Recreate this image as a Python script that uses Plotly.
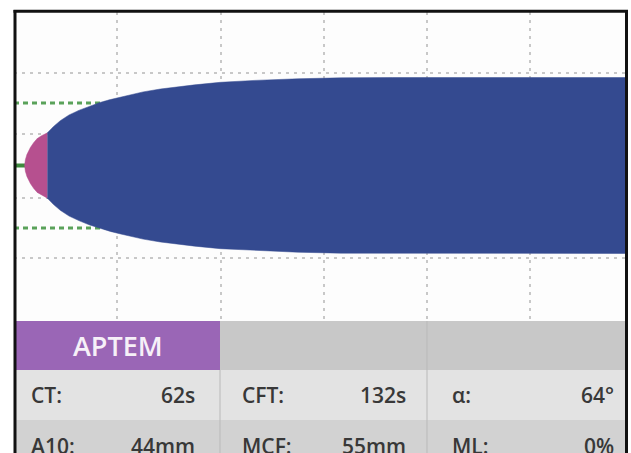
import plotly.graph_objects as go

# ---------------- data ----------------
CT_s = 62          # clotting time (s)
CFT_s = 132        # clot formation time (s)

# time (s) vs half amplitude (mm) of the upper trace edge
time_s = [62, 66, 75, 95, 115, 135, 160, 194, 230, 269, 320, 380, 440, 500,
          560, 620, 662, 750, 850, 950, 1050, 1200, 1400, 1650, 1900, 2200,
          2600, 3000, 3560]
half_amp_mm = [0.0, 1.8, 3.4, 5.6, 7.2, 8.4, 9.3, 10.2, 12.2, 14.0, 15.8, 17.3,
               18.6, 19.7, 20.6, 21.4, 22.0, 23.0, 23.9, 24.6, 25.2, 26.0,
               26.6, 27.1, 27.4, 27.5, 27.5, 27.5, 27.5]

x_grid_s = [600, 1200, 1800, 2400, 3000]
y_grid_mm = [-29, -10, 10, 29]
ref_line_mm = [19.5, -19.5]

assay_name = "APTEM"
row1_labels = ["CT:", "CFT:", "α:"]
row1_values = ["62s", "132s", "64°"]
row2_labels = ["A10:", "MCF:", "ML:"]
row2_values = ["44mm", "55mm", "0%"]

# ---------------- figure ----------------
W, H = 631, 453
X_END = 3556

def px(x):
    return x / W

def py(y):
    return 1 - y / H

fig = go.Figure()

# green dotted reference lines (under the trace)
for v in ref_line_mm:
    fig.add_trace(go.Scatter(x=[0, X_END], y=[v, v], mode="lines",
                             line=dict(color="#5aa25a", width=3, dash="5px,4px"),
                             hoverinfo="skip", showlegend=False))

# green baseline before CT
fig.add_trace(go.Scatter(x=[0, CT_s + 4], y=[0, 0], mode="lines",
                         line=dict(color="#3e8a3e", width=4),
                         hoverinfo="skip", showlegend=False))

t_split = CT_s + CFT_s
pink_t = [t for t in time_s if t <= t_split]
pink_a = [a for t, a in zip(time_s, half_amp_mm) if t <= t_split]
blue_t = [t for t in time_s if t >= t_split]
blue_a = [a for t, a in zip(time_s, half_amp_mm) if t >= t_split]

fig.add_trace(go.Scatter(x=pink_t + pink_t[::-1],
                         y=pink_a + [-a for a in pink_a[::-1]],
                         fill="toself", fillcolor="#b6508f", mode="lines",
                         line=dict(color="#b6508f", width=0.5),
                         hoverinfo="skip", showlegend=False))
fig.add_trace(go.Scatter(x=blue_t + blue_t[::-1],
                         y=blue_a + [-a for a in blue_a[::-1]],
                         fill="toself", fillcolor="#344a90", mode="lines",
                         line=dict(color="#344a90", width=0.5),
                         hoverinfo="skip", showlegend=False))

grid_color = "#c8c8c8"
fig.update_xaxes(domain=[px(14), px(626)], range=[0, X_END],
                 tickvals=x_grid_s, showticklabels=False, ticks="",
                 showgrid=True, gridcolor=grid_color, gridwidth=2,
                 griddash="3px,5px", zeroline=False, showline=False,
                 fixedrange=True)
center = 165.5
scale = 3.2
fig.update_yaxes(domain=[py(321), py(12)],
                 range=[-(321 - center) / scale, (center - 12) / scale],
                 tickvals=y_grid_mm, showticklabels=False, ticks="",
                 showgrid=True, gridcolor=grid_color, gridwidth=2,
                 griddash="3px,5px", zeroline=False, showline=False,
                 fixedrange=True)

shapes = []
# table rows
shapes.append(dict(type="rect", xref="paper", yref="paper",
                   x0=px(16), x1=px(220), y0=py(370), y1=py(321),
                   fillcolor="#9a66b6", line=dict(width=0)))
shapes.append(dict(type="rect", xref="paper", yref="paper",
                   x0=px(220), x1=px(626), y0=py(370), y1=py(321),
                   fillcolor="#c8c8c8", line=dict(width=0)))
shapes.append(dict(type="rect", xref="paper", yref="paper",
                   x0=px(16), x1=px(626), y0=py(420), y1=py(370),
                   fillcolor="#e3e3e3", line=dict(width=0)))
shapes.append(dict(type="rect", xref="paper", yref="paper",
                   x0=px(16), x1=px(626), y0=0, y1=py(420),
                   fillcolor="#d2d2d2", line=dict(width=0)))
# column separators
for xs in (220, 427):
    y_top = 370 if xs == 220 else 321
    shapes.append(dict(type="line", xref="paper", yref="paper",
                       x0=px(xs), x1=px(xs), y0=0, y1=py(y_top),
                       line=dict(color="#b9b9b9", width=1)))
# black frame
frame = dict(color="#111111", width=3)
shapes.append(dict(type="line", xref="paper", yref="paper",
                   x0=px(13.5), x1=px(628), y0=py(11.3), y1=py(11.3), line=frame))
shapes.append(dict(type="line", xref="paper", yref="paper",
                   x0=px(15), x1=px(15), y0=0, y1=py(10), line=frame))
shapes.append(dict(type="line", xref="paper", yref="paper",
                   x0=px(626.5), x1=px(626.5), y0=0, y1=py(10), line=frame))

annotations = []
annotations.append(dict(text=assay_name, xref="paper", yref="paper",
                        x=px(118), y=py(345.5), xanchor="center", yanchor="middle",
                        showarrow=False,
                        font=dict(family="Open Sans", size=27, color="#f6f0f8",
                                  weight=600)))
label_x = [29, 240, 450]
value_x = [197, 408, 616]
text_font = dict(family="Open Sans", size=21, color="#383838", weight=600)
for row_y, labels, values in ((395, row1_labels, row1_values),
                              (445.5, row2_labels, row2_values)):
    for lx, vx, lab, val in zip(label_x, value_x, labels, values):
        annotations.append(dict(text=lab, xref="paper", yref="paper",
                                x=px(lx), y=py(row_y), xanchor="left",
                                yanchor="middle", showarrow=False, font=text_font))
        annotations.append(dict(text=val, xref="paper", yref="paper",
                                x=px(vx), y=py(row_y), xanchor="right",
                                yanchor="middle", showarrow=False, font=text_font))

fig.update_layout(width=W, height=H, margin=dict(l=0, r=0, t=0, b=0),
                  paper_bgcolor="white", plot_bgcolor="#fdfdfd",
                  shapes=shapes, annotations=annotations, showlegend=False)

fig.write_html("out.html", config={"displayModeBar": False},
               post_script="document.body.style.margin='0px';"
                           "document.body.style.overflow='hidden';")
